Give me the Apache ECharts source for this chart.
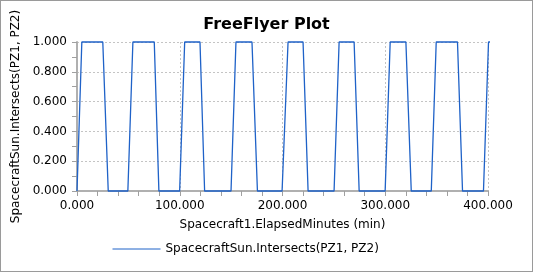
<!DOCTYPE html>
<html>
<head>
<meta charset="utf-8">
<script src="https://cdn.jsdelivr.net/npm/echarts@6/dist/echarts.min.js"></script>
<style>
html,body{margin:0;padding:0;background:#fff;}
#wrap{width:533px;height:272px;box-sizing:border-box;border:1px solid #9a9a9a;position:relative;overflow:hidden;}
#chart{position:absolute;left:-1px;top:-1px;width:533px;height:272px;}
</style>
</head>
<body>
<div id="wrap"><div id="chart"></div></div>
<script>
const chartTitle = 'FreeFlyer Plot';
const xAxisName = 'Spacecraft1.ElapsedMinutes (min)';
const yAxisName = 'SpacecraftSun.Intersects(PZ1, PZ2)';
const seriesName = 'SpacecraftSun.Intersects(PZ1, PZ2)';
const elapsedMinutes = [0, 4.7, 25.1, 30.4, 49.5, 54.4, 75.2, 79.7, 99.9, 104.8, 119.7, 124.2,
  149.9, 154.7, 170.3, 175.6, 199.6, 205.4, 220.0, 224.9, 250.2, 255.1, 269.7, 274.6,
  299.9, 304.8, 320.1, 325.3, 344.8, 349.6, 370.3, 375.2, 395.6, 400.5, 403.6];
const intersects = [0, 1, 1, 0, 0, 1, 1, 0, 0, 1, 1, 0,
  0, 1, 1, 0, 0, 1, 1, 0, 0, 1, 1, 0,
  0, 1, 1, 0, 0, 1, 1, 0, 0, 1, 1];

const font = 'DejaVu Sans';
const chart = echarts.init(document.getElementById('chart'), null, {renderer: 'canvas'});
const data = elapsedMinutes.map((x, i) => [x, intersects[i]]);
chart.setOption({
  animation: false,
  backgroundColor: '#fff',
  textStyle: {fontFamily: font},
  title: {
    text: chartTitle, left: 'center', top: 12,
    textStyle: {fontFamily: font, fontSize: 16, fontWeight: 'bold', color: '#000'}
  },
  grid: {left: 77, right: 45, top: 42, bottom: 81, containLabel: false},
  legend: {
    show: true, left: 107, top: 238, itemWidth: 48, itemHeight: 10, itemGap: 10,
    itemStyle: {opacity: 0},
    lineStyle: {width: 1, color: '#1f62c8'},
    textStyle: {fontFamily: font, fontSize: 12, color: '#000'}
  },
  xAxis: {
    type: 'value', min: 0, max: 400, interval: 100,
    name: xAxisName, nameLocation: 'middle', nameGap: 28,
    nameTextStyle: {fontFamily: font, fontSize: 12, color: '#000'},
    axisLine: {show: true, lineStyle: {color: '#b0b0b0', width: 2}},
    axisTick: {show: true, length: 5, lineStyle: {color: '#a0a0a0'}},
    minorTick: {show: true, splitNumber: 5, length: 5, lineStyle: {color: '#a0a0a0'}},
    axisLabel: {margin: 9, fontFamily: font, fontSize: 12, color: '#000', formatter: v => v.toFixed(3)},
    splitLine: {show: true, lineStyle: {color: '#c4c4c4', type: [2, 2], width: 1}}
  },
  yAxis: {
    type: 'value', min: 0, max: 1, interval: 0.2,
    name: yAxisName, nameLocation: 'middle', nameGap: 47,
    nameTextStyle: {fontFamily: font, fontSize: 12, color: '#000'},
    axisLine: {show: true, lineStyle: {color: '#b0b0b0', width: 2}},
    axisTick: {show: true, length: 5, lineStyle: {color: '#a0a0a0'}},
    minorTick: {show: true, splitNumber: 2, length: 5, lineStyle: {color: '#a0a0a0'}},
    axisLabel: {margin: 10, fontFamily: font, fontSize: 12, color: '#000', formatter: v => v.toFixed(3)},
    splitLine: {show: true, lineStyle: {color: '#c4c4c4', type: [2, 2], width: 1}}
  },
  series: [{
    name: seriesName, type: 'line', data: data, symbol: 'none', showSymbol: false, clip: false,
    lineStyle: {color: '#1f62c8', width: 1.3}, itemStyle: {color: '#1f62c8'}
  }]
});
</script>
</body>
</html>
